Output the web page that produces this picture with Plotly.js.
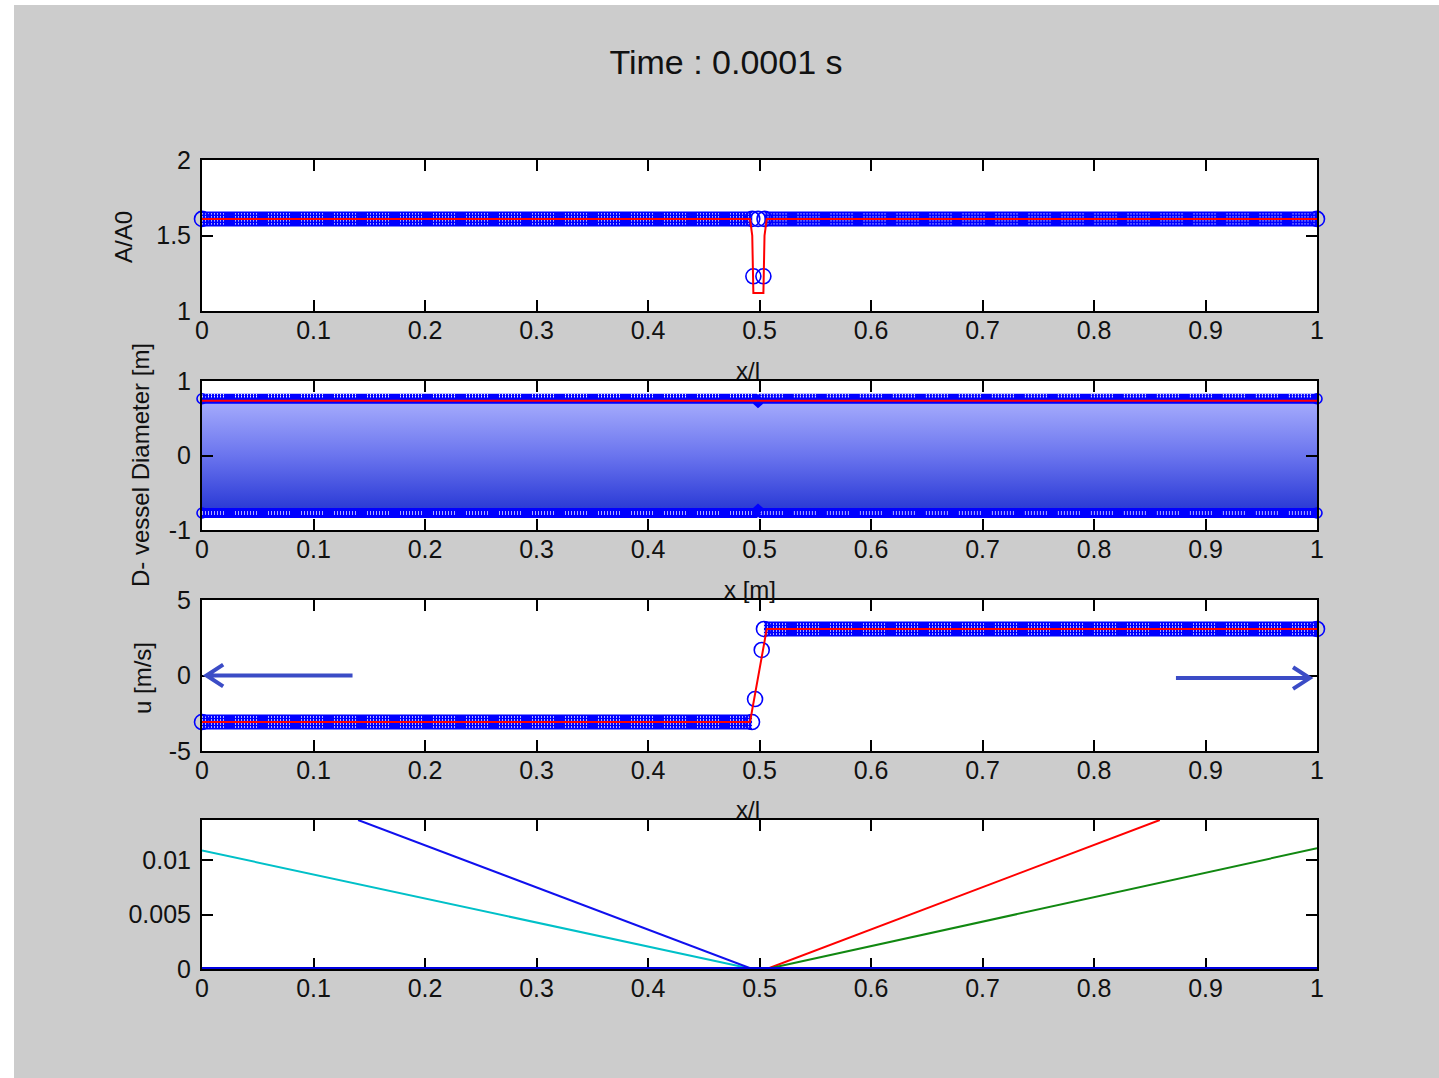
<!DOCTYPE html>
<html>
<head>
<meta charset="utf-8">
<script src="https://cdn.plot.ly/plotly-3.0.1.min.js"></script>
<style>html,body{margin:0;padding:0;background:#fff;}</style>
</head>
<body>
<div id="chart" style="width:1439px;height:1078px;"></div>
<script>
// ---------------- DATA ----------------
const xTickVals = [0, 0.1, 0.2, 0.3, 0.4, 0.5, 0.6, 0.7, 0.8, 0.9, 1];
const xTickText = ['0', '0.1', '0.2', '0.3', '0.4', '0.5', '0.6', '0.7', '0.8', '0.9', '1'];

// Panel 1 : A/A0
const areaLeftX = [0, 0.4935];
const areaLeftY = [1.61, 1.61];
const areaRightX = [0.5045, 1];
const areaRightY = [1.61, 1.61];
const areaNodeX = [0, 0.4935, 0.4945, 0.4987, 0.5035, 0.5045, 1];
const areaNodeY = [1.61, 1.61, 1.23, 1.61, 1.23, 1.61, 1.61];
const areaExactX = [0, 0.4915, 0.4935, 0.4945, 0.5035, 0.5045, 0.5065, 1];
const areaExactY = [1.61, 1.61, 1.5, 1.12, 1.12, 1.5, 1.61, 1.61];

// Panel 2 : D - vessel diameter
const diamX = [0, 0.496, 0.4987, 0.5015, 1];
const diamTopY = [0.762, 0.762, 0.725, 0.762, 0.762];
const diamBotY = [-0.772, -0.772, -0.735, -0.772, -0.772];
const diamNodeX = [0, 1];
const diamExactX = [0, 1];
const diamExactTopY = [0.735, 0.735];

// Panel 3 : u
const velLeftX = [0, 0.4933];
const velLeftY = [-3.08, -3.08];
const velRightX = [0.504, 1];
const velRightY = [3.08, 3.08];
const velNodeX = [0, 0.4933, 0.496, 0.502, 0.504, 1];
const velNodeY = [-3.08, -3.08, -1.56, 1.69, 3.08, 3.08];
const velExactX = [0, 0.4915, 0.5065, 1];
const velExactY = [-3.08, -3.08, 3.08, 3.08];

// Panel 4 : characteristics
const charCyanX = [0, 0.4935];
const charCyanT = [0.0109, 0];
const charBlueX = [0.14, 0.4935];
const charBlueT = [0.0137, 0];
const charRedX = [0.5065, 0.859];
const charRedT = [0, 0.0137];
const charGreenX = [0.5065, 1];
const charGreenT = [0, 0.0111];
const baseX = [0, 1];
const baseT = [0, 0];

// ---------------- STYLE ----------------
const BLUE = '#0000ff';
const RED = '#ff0000';
const FONT = 'Liberation Sans, Arial, sans-serif';
const pxPerUnit = {y: 151, y2: 74.5, y3: 15.1};

let dotDash = [];
for (let i = 0; i < 7; i++) dotDash.push('1px', '2px');
dotDash.push('1px', '11px');
dotDash = dotDash.join(',');

const traces = [];
function band(x, y, yax, width, dotOffsets) {
  const xa = yax === 'y' ? 'x' : 'x' + yax.slice(1);
  traces.push({x: x, y: y, xaxis: xa, yaxis: yax, mode: 'lines',
    line: {color: BLUE, width: width}, hoverinfo: 'skip', showlegend: false});
  dotOffsets.forEach(function (off) {
    traces.push({x: x, y: y.map(v => v - off / pxPerUnit[yax]), xaxis: xa, yaxis: yax, mode: 'lines',
      line: {color: 'rgba(255,255,255,0.9)', width: 1.3, dash: dotDash}, hoverinfo: 'skip', showlegend: false});
  });
}
function nodes(x, y, yax, size) {
  const xa = yax === 'y' ? 'x' : 'x' + yax.slice(1);
  traces.push({x: x, y: y, xaxis: xa, yaxis: yax, mode: 'markers', cliponaxis: false,
    marker: {symbol: 'circle-open', size: size, color: BLUE, line: {width: 1.6, color: BLUE}},
    hoverinfo: 'skip', showlegend: false});
}
function line(x, y, yax, color, width) {
  const xa = yax === 'y' ? 'x' : 'x' + yax.slice(1);
  traces.push({x: x, y: y, xaxis: xa, yaxis: yax, mode: 'lines',
    line: {color: color, width: width}, hoverinfo: 'skip', showlegend: false});
}

// Panel 1
band(areaLeftX, areaLeftY, 'y', 15, [-5, -2, 2, 5]);
band(areaRightX, areaRightY, 'y', 15, [-5, -2, 2, 5]);
nodes(areaNodeX, areaNodeY, 'y', 15);
line(areaExactX, areaExactY, 'y', RED, 2);

// Panel 2 : gradient filled vessel
traces.push({
  x: diamX.concat(diamX.slice().reverse()),
  y: diamTopY.concat(diamBotY.slice().reverse()),
  xaxis: 'x2', yaxis: 'y2', mode: 'lines', line: {width: 0}, fill: 'toself',
  fillgradient: {type: 'vertical', colorscale: [[0, '#2636d4'], [0.5, '#6a74ee'], [1, '#a8aefd']], start: -0.77, stop: 0.76},
  hoverinfo: 'skip', showlegend: false
});
band(diamX, diamTopY, 'y2', 10, [-4, -2]);
band(diamX, diamBotY, 'y2', 10, [-1, 1]);
nodes([diamNodeX[0]], [diamTopY[0]], 'y2', 10);
nodes([diamNodeX[0]], [diamBotY[0]], 'y2', 10);
nodes([diamNodeX[1]], [diamTopY[diamTopY.length - 1]], 'y2', 10);
nodes([diamNodeX[1]], [diamBotY[diamBotY.length - 1]], 'y2', 10);
line(diamExactX, diamExactTopY, 'y2', RED, 2);

// Panel 3
band(velLeftX, velLeftY, 'y3', 15, [-5, -2, 2, 5]);
band(velRightX, velRightY, 'y3', 15, [-5, -2, 2, 5]);
nodes(velNodeX, velNodeY, 'y3', 15);
line(velExactX, velExactY, 'y3', RED, 2);

// Panel 4
line(charCyanX, charCyanT, 'y4', '#00c0c8', 2);
line(charBlueX, charBlueT, 'y4', '#1010ee', 2);
line(charRedX, charRedT, 'y4', RED, 2);
line(charGreenX, charGreenT, 'y4', '#118811', 2);
line(baseX, baseT, 'y4', '#0000e0', 4);

// ---------------- LAYOUT ----------------
function xAxis(anchor, layer) {
  return {
    domain: [0, 1], anchor: anchor, range: [0, 1], tickmode: 'array',
    tickvals: xTickVals, ticktext: xTickText,
    showline: true, linecolor: '#000', linewidth: 2, mirror: 'ticks',
    ticks: 'inside', ticklen: 11, tickwidth: 2, tickcolor: '#000',
    showgrid: false, zeroline: false, fixedrange: true, layer: layer || 'above traces',
    tickfont: {family: FONT, size: 25, color: '#111'}, ticklabelstandoff: -4
  };
}
function yAxis(anchor, domain, range, vals, text, layer) {
  return {
    domain: domain, anchor: anchor, range: range, tickmode: 'array',
    tickvals: vals, ticktext: text,
    showline: true, linecolor: '#000', linewidth: 2, mirror: 'ticks',
    ticks: 'inside', ticklen: 11, tickwidth: 2, tickcolor: '#000',
    showgrid: false, zeroline: false, fixedrange: true, layer: layer || 'above traces',
    tickfont: {family: FONT, size: 25, color: '#111'}, ticklabelstandoff: 4
  };
}

const T = 160, B = 969, L = 202, R = 1317;
const H = B - T, W = R - L;
const py = p => (B - p) / H;
const px = p => (p - L) / W;

const arrowColor = '#3b4cc6';

const layout = {
  width: 1439, height: 1078,
  margin: {l: L, r: 1439 - R, t: T, b: 1078 - B, pad: 0},
  paper_bgcolor: '#cccccc', plot_bgcolor: '#ffffff',
  showlegend: false,
  title: {text: 'Time : 0.0001 s', font: {family: FONT, size: 34, color: '#111'},
    xref: 'container', yref: 'container', x: 726 / 1439, y: 1 - 62 / 1078, xanchor: 'center', yanchor: 'middle'},
  xaxis: xAxis('y'),
  xaxis2: xAxis('y2'),
  xaxis3: xAxis('y3'),
  xaxis4: xAxis('y4', 'below traces'),
  yaxis: yAxis('x', [py(311), py(160)], [1, 2], [1, 1.5, 2], ['1', '1.5', '2']),
  yaxis2: yAxis('x2', [py(530), py(381)], [-1, 1], [-1, 0, 1], ['-1', '0', '1']),
  yaxis3: yAxis('x3', [py(751), py(600)], [-5, 5], [-5, 0, 5], ['-5', '0', '5']),
  yaxis4: yAxis('x4', [py(969), py(820)], [0, 0.0137], [0, 0.005, 0.01], ['0', '0.005', '0.01']),
  shapes: [
    {type: 'rect', xref: 'paper', yref: 'paper', x0: px(-5), x1: px(14), y0: py(1090), y1: py(-5),
      fillcolor: '#ffffff', line: {width: 0}, layer: 'below'},
    {type: 'rect', xref: 'paper', yref: 'paper', x0: px(-5), x1: px(1445), y0: py(5), y1: py(-5),
      fillcolor: '#ffffff', line: {width: 0}, layer: 'below'},
    // arrows in velocity panel
    {type: 'path', xref: 'x3', yref: 'y3', layer: 'above',
      path: 'M 0.135,0 L 0.004,0 M 0.019,0.72 L 0.004,0 L 0.019,-0.72',
      line: {color: arrowColor, width: 4}},
    {type: 'path', xref: 'x3', yref: 'y3', layer: 'above',
      path: 'M 0.8735,-0.17 L 0.9935,-0.17 M 0.9785,0.55 L 0.9935,-0.17 L 0.9785,-0.89',
      line: {color: arrowColor, width: 4}}
  ],
  annotations: [
    {text: 'A/A0', xref: 'paper', yref: 'paper', x: px(123), y: py(237), textangle: -90,
      xanchor: 'center', yanchor: 'middle', showarrow: false, font: {family: FONT, size: 24, color: '#111'}},
    {text: 'D- vessel Diameter [m]', xref: 'paper', yref: 'paper', x: px(140), y: py(465), textangle: -90,
      xanchor: 'center', yanchor: 'middle', showarrow: false, font: {family: FONT, size: 24, color: '#111'}},
    {text: 'u [m/s]', xref: 'paper', yref: 'paper', x: px(142), y: py(678), textangle: -90,
      xanchor: 'center', yanchor: 'middle', showarrow: false, font: {family: FONT, size: 24, color: '#111'}},
    {text: 'x/l', xref: 'paper', yref: 'paper', x: px(748), y: py(386),
      xanchor: 'center', yanchor: 'bottom', showarrow: false, font: {family: FONT, size: 24, color: '#111'}},
    {text: 'x [m]', xref: 'paper', yref: 'paper', x: px(750), y: py(605),
      xanchor: 'center', yanchor: 'bottom', showarrow: false, font: {family: FONT, size: 24, color: '#111'}},
    {text: 'x/l', xref: 'paper', yref: 'paper', x: px(748), y: py(825),
      xanchor: 'center', yanchor: 'bottom', showarrow: false, font: {family: FONT, size: 24, color: '#111'}}
  ]
};

Plotly.newPlot('chart', traces, layout, {staticPlot: true, displayModeBar: false});
</script>
</body>
</html>
